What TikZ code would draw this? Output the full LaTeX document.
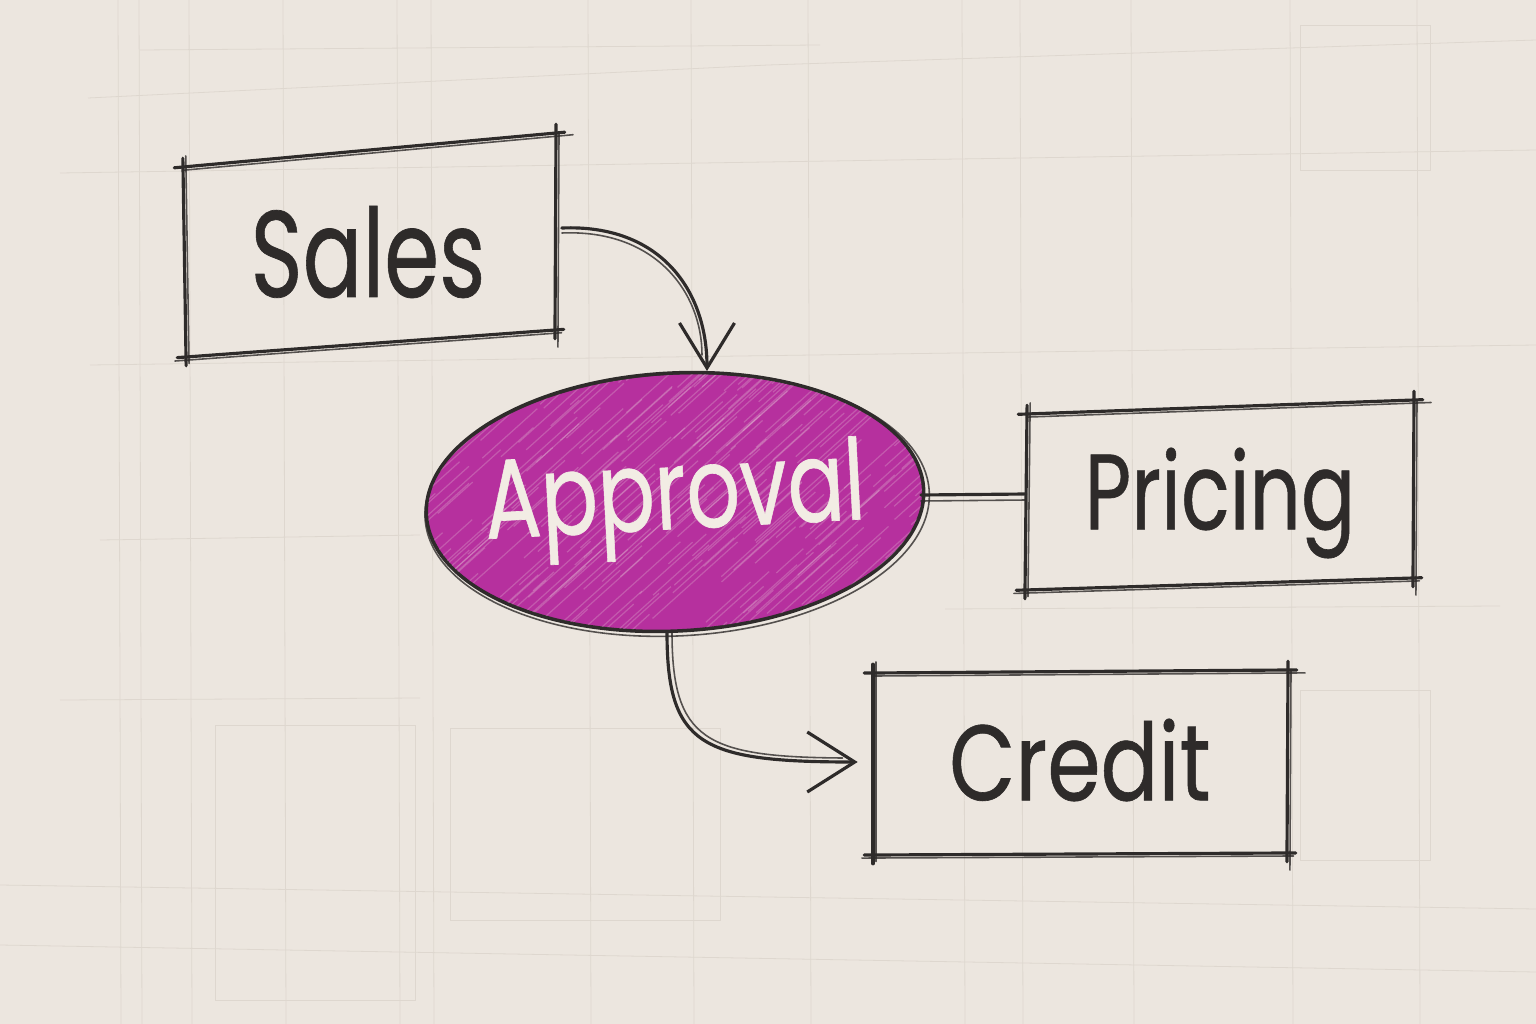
\documentclass[tikz,border=0pt]{standalone}
\usepackage{fontspec}
\usepackage{graphicx}
\newfontfamily\handfont[FakeBold=0.6]{Poppins}
\usetikzlibrary{arrows.meta,calc,shapes.geometric}
\definecolor{paper}{HTML}{ECE6DF}
\definecolor{ink}{HTML}{2E2B2A}
\definecolor{gridc}{HTML}{DED7CF}
\definecolor{magen}{HTML}{B6309E}
\definecolor{cream}{HTML}{F2ECE4}
\newcommand{\hsq}[2]{\scalebox{#1}[1]{#2}}
\newcommand{\skside}[2]{%
  \draw[inkline] ($(#1)!-5pt!(#2)$) -- ($(#2)!-5pt!(#1)$);
  \draw[inkthin] ($(#1)!-2pt!(#2)+(3,3)$) -- ($(#2)!-8pt!(#1)+(3,3)$);}
\newcommand{\skbox}[4]{\skside{#1}{#2}\skside{#2}{#3}\skside{#3}{#4}\skside{#4}{#1}}
\begin{document}
\begin{tikzpicture}[x=0.02cm,y=-0.02cm,
  inkline/.style={draw=ink, line width=1.8pt, line cap=round, line join=round},
  inkthin/.style={draw=ink, line width=0.9pt, opacity=0.8, line cap=round},
  gridline/.style={draw=gridc, line width=0.45pt},
  handtext/.style={text=ink, inner sep=0pt},
  boxnode/.style={draw=none, rectangle, inner sep=0pt},
  tipa/.style={-{Straight Barb[length=0.9cm,width=1.1cm]}},
  tipb/.style={-{Straight Barb[length=0.95cm,width=1.2cm]}}
]
\fill[paper] (0,0) rectangle (1536,1024);
\useasboundingbox (0,0) rectangle (1536,1024);

% faint pencil grid
\foreach \gx in {118,139,189,283,397,431,588,691,808,962,1020,1131,1290,1417}
  \draw[gridline] (\gx,0) -- (\gx+3,1024);
\draw[gridline] (88,98) -- (768,65) -- (1536,40);
\draw[gridline] (140,50) -- (820,45);
\draw[gridline] (60,173) -- (1536,150);
\draw[gridline] (90,365) -- (1536,345);
\draw[gridline] (100,540) -- (420,535);
\draw[gridline] (60,700) -- (420,698);
\draw[gridline] (945,609) -- (1500,606);
\draw[gridline] (0,885) -- (1536,909);
\draw[gridline] (0,945) -- (1536,972);
\draw[gridline] (215,725) rectangle (415,1000);
\draw[gridline] (450,728) rectangle (720,920);
\draw[gridline] (1300,690) rectangle (1430,860);
\draw[gridline] (1300,25) rectangle (1430,170);

% nodes
\node[boxnode, minimum width=7.42cm, minimum height=3.9cm, handtext,
      font=\handfont\fontsize{70}{80}\selectfont] (sales) at (368,252) {\hsq{0.72}{Sales}};
\node[boxnode, minimum width=7.76cm, minimum height=3.6cm, handtext,
      font=\handfont\fontsize{61}{70}\selectfont] (pricing) at (1220,503) {\hsq{0.75}{Pricing}};
\node[boxnode, minimum width=8.28cm, minimum height=3.66cm, handtext,
      font=\handfont\fontsize{61}{70}\selectfont] (credit) at (1080,760) {\hsq{0.8}{Credit}};

% sketchy outlines of the boxes
\coordinate (sA) at (183,167); \coordinate (sB) at (556,133);
\coordinate (sC) at (555,330); \coordinate (sD) at (186,357);
\skbox{sA}{sB}{sC}{sD}
\coordinate (pA) at (1027,414); \coordinate (pB) at (1414,400);
\coordinate (pC) at (1413,578); \coordinate (pD) at (1025,590);
\skbox{pA}{pB}{pC}{pD}
\coordinate (cA) at (873,673); \coordinate (cB) at (1288,670);
\coordinate (cC) at (1287,853); \coordinate (cD) at (873,855);
\skbox{cA}{cB}{cC}{cD}

% approval ellipse
\node[ellipse, draw=ink, line width=2pt, fill=magen, minimum width=9.96cm,
      minimum height=5.16cm, inner sep=0pt, rotate=3, text=cream,
      font=\handfont\fontsize{64}{72}\selectfont] (approval) at (675,502) {\makebox[0pt]{\hsq{0.75}{Approval}}};
\begin{scope}
  \clip[rotate around={3:(approval.center)}] (approval.center) ellipse [x radius=4.95cm, y radius=2.55cm];
  \pgfmathsetseed{11}
  \foreach \i in {1,...,300}{
    \pgfmathsetmacro{\px}{400+rnd*540}
    \pgfmathsetmacro{\py}{380+rnd*300}
    \pgfmathsetmacro{\ln}{20+rnd*80}
    \draw[cream, opacity=0.22, line width=0.7pt] (\px,\py) -- ++(\ln,-0.9*\ln);
  }
\end{scope}
\draw[inkthin, rotate around={3:(approval.center)}] ($(approval.center)+(2,3)$) ellipse [x radius=5.05cm, y radius=2.62cm];

% connectors
\draw[inkline, tipa] ([shift={(8,-24)}]sales.east) .. controls (660,224) and (707,290) .. ([shift={(32,-131)}]approval.center);
\draw[inkthin] ([shift={(8,-19)}]sales.east) .. controls (655,229) and (702,292) .. ([shift={(27,-147)}]approval.center);
\draw[inkline] ([shift={(246,-7)}]approval.center) -- ([yshift=0.18cm]pricing.west);
\draw[inkthin] ([shift={(246,-1)}]approval.center) -- ([yshift=0.06cm]pricing.west);
\draw[inkline, tipb] ([shift={(-8,130)}]approval.center) .. controls (667,745) and (700,762) .. ([shift={(-15,2)}]credit.west);
\draw[inkthin] ([shift={(-3,130)}]approval.center) .. controls (672,740) and (705,757) .. ([shift={(-30,-2)}]credit.west);
\end{tikzpicture}
\end{document}
